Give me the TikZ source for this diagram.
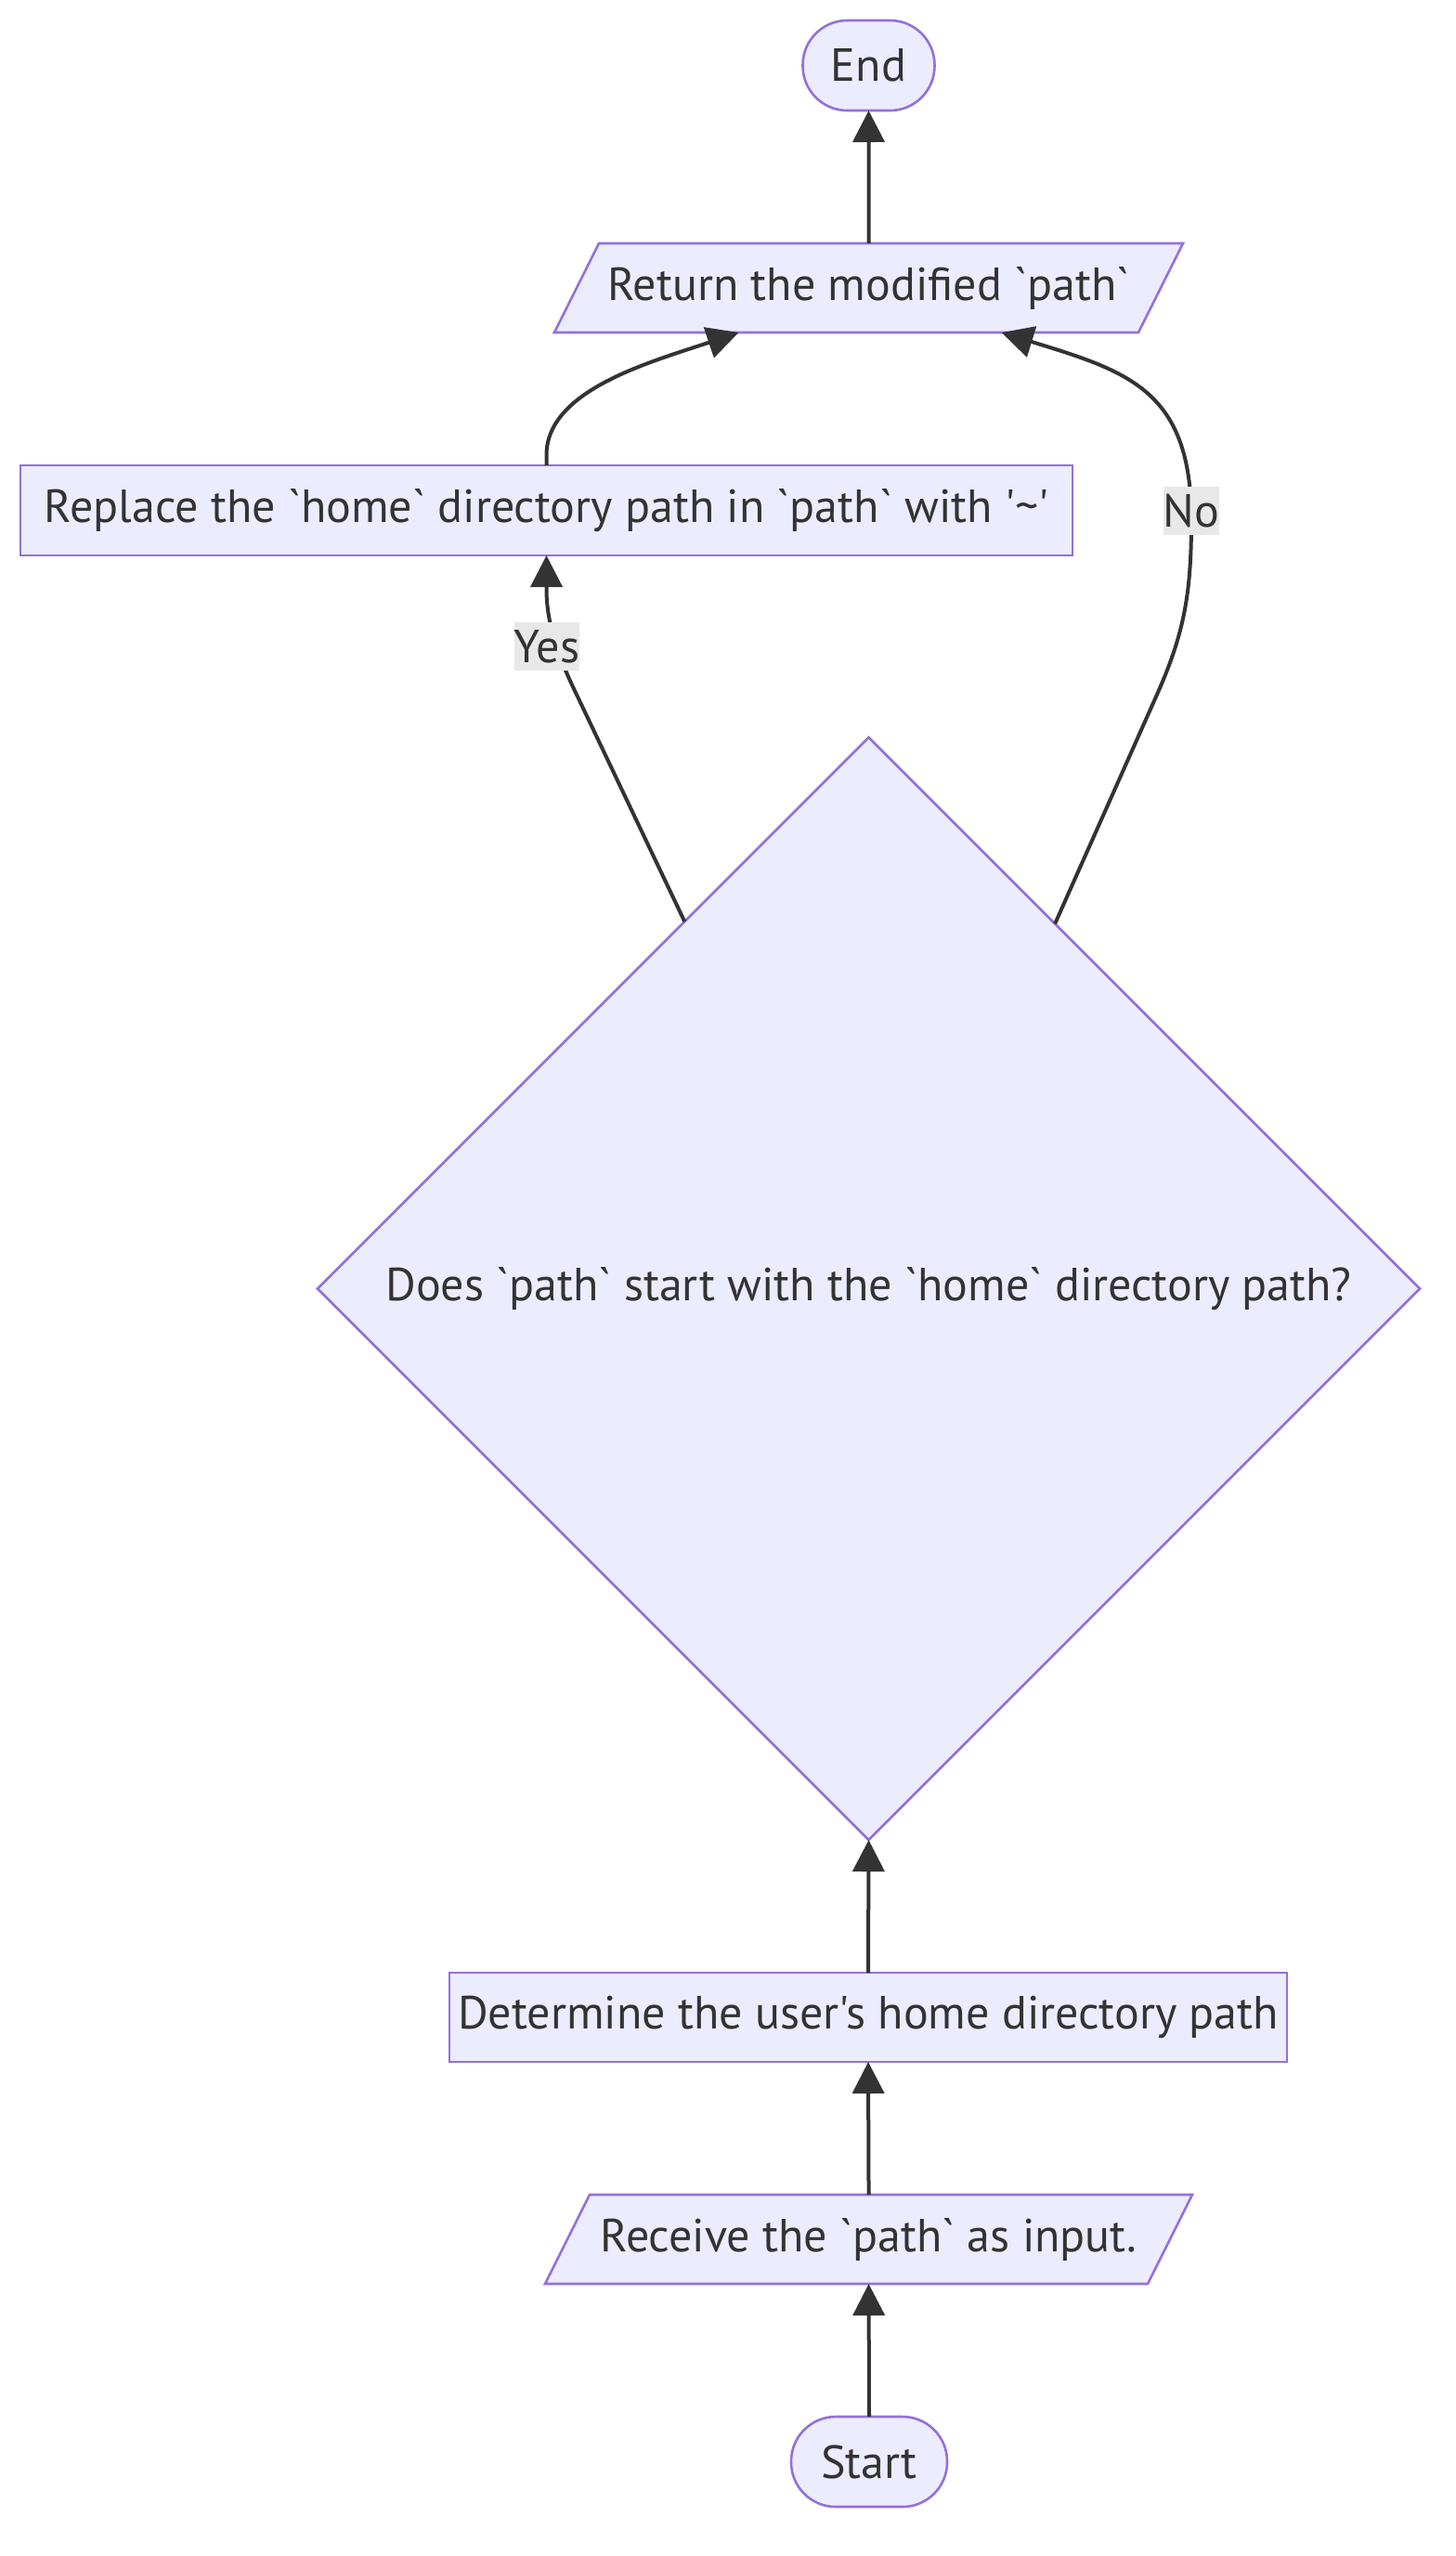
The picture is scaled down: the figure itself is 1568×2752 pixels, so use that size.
\documentclass[tikz,border=0pt]{standalone}
\usepackage{fontspec}
\setmainfont{PT Sans}[Ligatures=TeXOff]
\usetikzlibrary{shapes.geometric,arrows.meta,calc}
\definecolor{nodefill}{HTML}{ECECFF}
\definecolor{nodeline}{HTML}{9370DB}
\definecolor{ink}{HTML}{333333}
\definecolor{lblbg}{HTML}{E8E8E8}
\newcommand{\bq}{\symbol{96}}
\begin{document}
\begin{tikzpicture}[x=0.5pt,y=-0.5pt,
  font=\fontsize{25}{30}\selectfont, text=ink,
  base/.style={draw=nodeline, fill=nodefill, line width=1.3pt, outer sep=0pt, inner sep=0pt},
  proc/.style={base, rectangle, minimum height=48.5pt},
  term/.style={base, rectangle, rounded corners=24pt, minimum height=48.5pt},
  io/.style={base, trapezium, trapezium left angle=63.43, trapezium right angle=116.57,
    trapezium stretches body, text height=18pt, text depth=5pt, inner xsep=0pt, inner ysep=12.5pt},
  dec/.style={base, diamond, minimum width=593.5pt, minimum height=593.5pt},
  conn/.style={draw=ink, line width=2pt, -{Triangle[length=17pt,width=17pt]}},
  lbl/.style={fill=lblbg, inner sep=0pt, minimum height=26pt, text=ink}
]
\fill[white] (0,0) rectangle (1568,2752);
\useasboundingbox (0,0) rectangle (1568,2752);

\node[term, minimum width=71pt] (end) at (935.5,70.5) {End};
\node[io, minimum width=338.5pt] (ret) at (935.5,310) {Return the modified \bq path\bq};
\node[proc, minimum width=566.5pt] (rep) at (588.5,549.5) {Replace the \bq home\bq{} directory path in \bq path\bq{} with '\textasciitilde'};
\node[dec] (dia) at (935.5,1387.5) {Does \bq path\bq{} start with the \bq home\bq{} directory path?};
\node[proc, minimum width=451pt, minimum height=48pt] (det) at (935,2172) {Determine the user's home directory path};
\node[io, minimum width=348.5pt] (rec) at (935.5,2411) {Receive the \bq path\bq{} as input.};
\node[term, minimum width=84pt] (start) at (936,2650.5) {Start};

\draw[conn] (start.north) -- (rec.south);
\draw[conn] (rec.north) -- (det.south);
\draw[conn] (det.north) -- (dia.south);
\draw[conn] (ret.north) -- (end.south);

\coordinate (yesA) at ($(dia.west)!0.666!(dia.north)$);
\coordinate (yesB) at (622,750);
\coordinate (yesC) at (588.5,634);
\draw[conn] (yesA) -- (yesB) .. controls (600,705) and (588.5,670) .. (yesC) -- (rep.south);

\coordinate (repB) at (588.5,490);
\coordinate (retL) at ($(ret.south)+(-140,0)$);
\draw[conn] (rep.north) -- (repB) .. controls (588.5,420) and (700,390) .. (retL);

\coordinate (noA) at ($(dia.north)!0.338!(dia.east)$);
\coordinate (noB) at (1245,750);
\coordinate (noC) at (1283,560);
\coordinate (retR) at ($(ret.south)+(143,0)$);
\draw[conn] (noA) -- (noB) .. controls (1275,683) and (1283,640) .. (noC) .. controls (1283,420) and (1215,400) .. (retR);

\node[lbl, minimum width=31.5pt] (yes) at (589,696) {Yes};
\node[lbl, minimum width=27pt] (no) at (1283,550) {No};
\end{tikzpicture}
\end{document}
